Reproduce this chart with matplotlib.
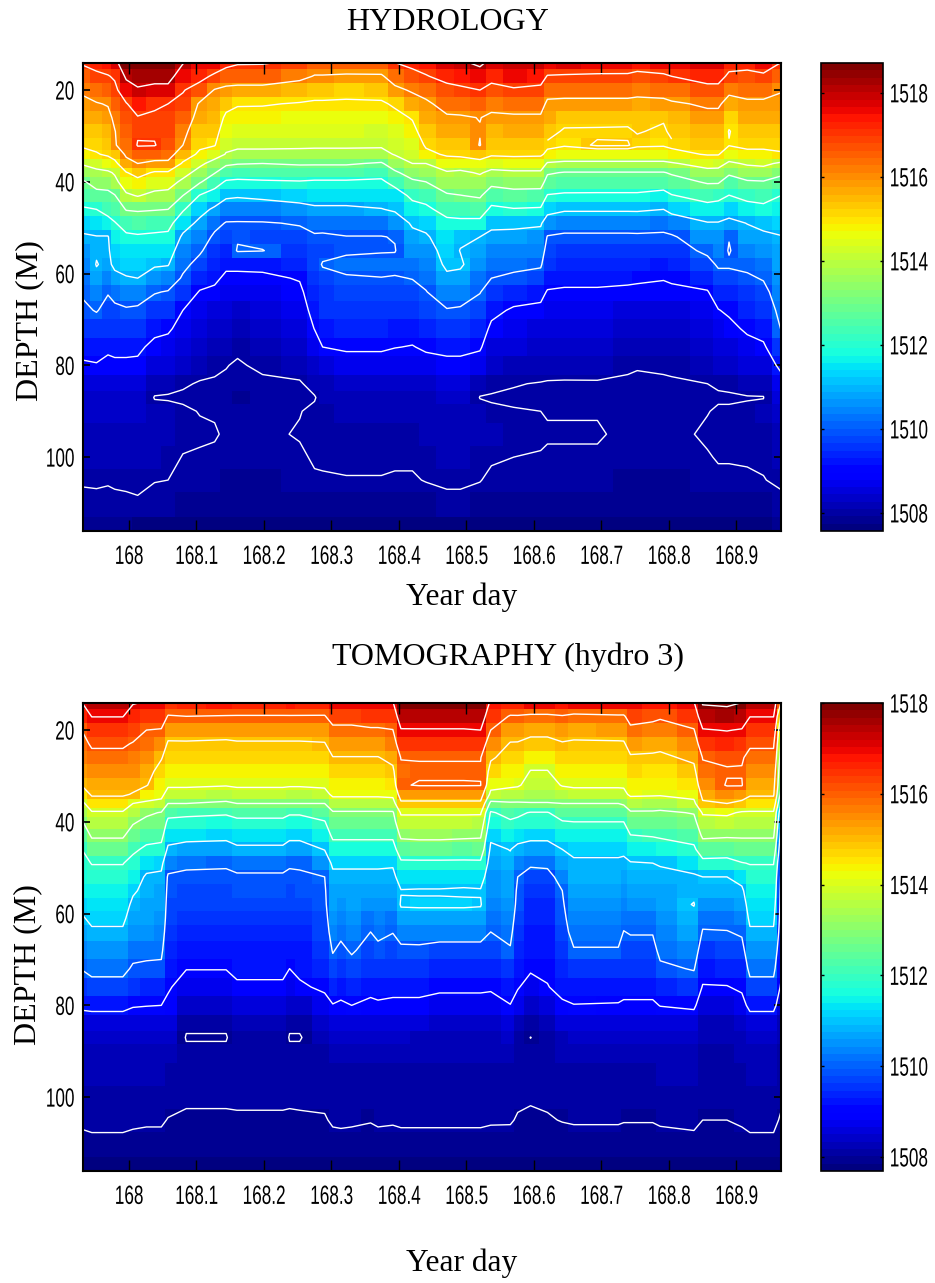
import matplotlib
matplotlib.use('Agg')
import matplotlib.pyplot as plt
from matplotlib.patheffects import AbstractPathEffect
from matplotlib.transforms import Affine2D
import numpy as np

# sound speed, in m/s above 1500
# every line is one time column, values go from the shallow row to the deep row
DEPTHS = [14, 17, 20, 23, 26, 29, 32, 34, 36, 38, 40, 43, 46, 49, 52, 55, 58, 61, 64, 68,
          72, 76, 80, 84, 87, 90, 95, 100, 105, 110, 116]
BASE = 1500

HYDRO_DAYS = [167.932, 167.952, 167.969, 167.979, 167.996, 168.013, 168.038, 168.058, 168.08, 168.105,
              168.127, 168.144, 168.161, 168.198, 168.253, 168.275, 168.287, 168.322, 168.374, 168.394,
              168.42, 168.44, 168.471, 168.491, 168.52, 168.537, 168.57, 168.61, 168.62, 168.645,
              168.694, 168.739, 168.753, 168.792, 168.804, 168.857, 168.873, 168.889, 168.916, 168.94, 168.966]
HYDRO_SPEED = [
    [17.1, 16.6, 16.1, 15.85, 15.6, 15.35, 15.1, 14.75, 14.1, 13.5, 12.9, 12.45, 11.9, 11.3, 10.9, 10.7, 10.5, 10.3, 10.1, 9.85, 9.55, 9.25, 8.9, 8.55, 8.4, 8.3, 8.2, 8.12, 8.03, 7.93, 7.78],
    [17.25, 16.85, 16.4, 15.95, 15.65, 15.4, 15.15, 14.95, 14.3, 13.8, 13.35, 12.7, 12, 11.4, 10.97, 10.93, 11.03, 10.85, 10.5, 10.05, 9.6, 9.3, 8.95, 8.55, 8.4, 8.3, 8.2, 8.12, 8.03, 7.95, 7.78],
    [17.45, 16.95, 16.5, 16.05, 15.8, 15.55, 15.3, 15.1, 14.6, 13.85, 13.4, 12.75, 12.3, 11.7, 10.95, 10.9, 10.85, 10.5, 10.05, 9.75, 9.5, 9.15, 8.8, 8.5, 8.4, 8.3, 8.2, 8.12, 8.02, 7.94, 7.78],
    [17.75, 17.1, 16.8, 16.5, 16.15, 15.97, 15.95, 15.4, 14.75, 14.1, 13.75, 12.95, 12.45, 11.95, 11.6, 11.35, 11.15, 10.8, 10.3, 9.8, 9.5, 9.2, 8.85, 8.55, 8.4, 8.3, 8.2, 8.12, 8.04, 7.94, 7.78],
    [18.65, 18.15, 17.55, 16.95, 16.75, 16.5, 16.3, 16.12, 15.75, 14.95, 14.55, 13.85, 13.05, 12.35, 11.85, 11.55, 11.25, 10.95, 10.5, 9.9, 9.55, 9.2, 8.85, 8.55, 8.4, 8.3, 8.2, 8.12, 8.05, 7.95, 7.75],
    [18.75, 18.35, 17.9, 17.4, 16.95, 16.9, 17.05, 16.6, 16, 15.3, 14.75, 14.05, 13.1, 12.45, 11.9, 11.55, 11.25, 11, 10.45, 9.85, 9.5, 9.15, 8.85, 8.55, 8.4, 8.3, 8.2, 8.14, 8.06, 7.97, 7.72],
    [18.8, 18.3, 17.75, 17.05, 16.95, 16.9, 17.04, 16.45, 15.8, 14.9, 14.5, 13.75, 13.05, 12.35, 11.85, 11.45, 11.1, 10.6, 10.05, 9.6, 9.2, 8.8, 8.55, 8.15, 7.98, 8.12, 8.12, 8.1, 8.01, 7.92, 7.72],
    [18.8, 18.3, 17.75, 17, 16.9, 16.8, 16.65, 16.4, 15.8, 14.9, 14.4, 13.7, 13, 12.3, 11.8, 11.4, 11.05, 10.5, 9.95, 9.55, 9.1, 8.75, 8.5, 8.1, 7.97, 8.1, 8.1, 8.07, 8, 7.92, 7.72],
    [18.05, 17.55, 17.05, 16.8, 16.5, 16.25, 16, 15.45, 14.9, 14.35, 13.8, 13, 12.1, 11.4, 10.85, 10.5, 10.2, 9.9, 9.5, 9, 8.75, 8.55, 8.4, 8.03, 7.96, 8.04, 8.06, 7.99, 7.95, 7.88, 7.7],
    [17.65, 17.25, 16.65, 15.9, 15.7, 15.4, 15.15, 14.85, 14.2, 13.65, 13.1, 11.95, 11.3, 10.8, 10.45, 10.1, 9.75, 9.35, 8.95, 8.75, 8.55, 8.4, 8.1, 7.98, 7.95, 7.99, 8.04, 7.97, 7.93, 7.86, 7.7],
    [17.55, 16.85, 15.95, 15.7, 15.5, 15.3, 15.05, 14.4, 13.65, 13.05, 12.4, 11.6, 10.85, 10.25, 9.85, 9.6, 9.4, 9.15, 8.85, 8.6, 8.4, 8.25, 8.05, 7.97, 7.95, 7.98, 8.02, 7.96, 7.92, 7.85, 7.7],
    [17.3, 16.5, 15.8, 15.25, 14.85, 14.55, 14.2, 13.95, 13.15, 12.5, 11.9, 11.15, 10.5, 9.95, 9.7, 9.45, 9.15, 8.85, 8.65, 8.45, 8.3, 8.15, 8.01, 7.96, 7.93, 7.95, 7.97, 7.95, 7.9, 7.85, 7.7],
    [17.1, 16.45, 15.75, 15.05, 14.8, 14.5, 14.15, 13.8, 13.05, 12.4, 11.85, 11.1, 10.4, 9.95, 9.93, 10.06, 9.15, 8.85, 8.65, 8.42, 8.25, 8.05, 7.97, 7.93, 7.9, 7.93, 7.95, 7.93, 7.9, 7.85, 7.7],
    [17.08, 16.45, 15.75, 15.05, 14.75, 14.45, 14.15, 13.8, 13, 12.45, 11.9, 11.2, 10.5, 9.95, 9.8, 10.02, 9.2, 8.85, 8.65, 8.5, 8.35, 8.2, 8.05, 7.95, 7.92, 7.93, 7.95, 7.93, 7.9, 7.85, 7.7],
    [16.85, 16.25, 15.45, 14.95, 14.7, 14.4, 14.12, 13.8, 13.1, 12.5, 11.95, 11.35, 10.7, 10.05, 9.8, 9.6, 9.35, 9.05, 8.85, 8.65, 8.45, 8.3, 8.12, 7.97, 7.95, 7.99, 8.02, 7.96, 7.92, 7.86, 7.7],
    [16.5, 15.95, 15.3, 14.9, 14.7, 14.4, 14.1, 13.8, 13.1, 12.45, 11.9, 11.4, 10.85, 10.3, 9.9, 9.8, 9.72, 9.6, 9.45, 9.25, 9.02, 8.65, 8.35, 8.1, 7.98, 8.05, 8.07, 8.03, 7.97, 7.88, 7.7],
    [16.5, 15.95, 15.3, 14.9, 14.7, 14.4, 14.1, 13.8, 13.1, 12.45, 11.9, 11.4, 10.85, 10.25, 9.9, 9.8, 10.05, 9.8, 9.65, 9.5, 9.3, 9, 8.6, 8.2, 8.1, 8.08, 8.06, 8.03, 7.98, 7.88, 7.7],
    [16.5, 15.9, 15.2, 14.9, 14.7, 14.4, 14.1, 13.8, 13.1, 12.45, 11.9, 11.4, 10.85, 10.3, 9.98, 9.9, 10.2, 9.93, 9.78, 9.6, 9.4, 9.1, 8.7, 8.3, 8.15, 8.1, 8.07, 8.04, 7.99, 7.88, 7.7],
    [16.6, 15.9, 15.3, 14.9, 14.65, 14.35, 14.1, 13.75, 12.9, 12.3, 11.85, 11.4, 10.97, 10.3, 9.98, 9.95, 10.25, 9.98, 9.8, 9.6, 9.4, 9.1, 8.7, 8.3, 8.15, 8.1, 8.07, 8.04, 7.99, 7.88, 7.7],
    [17, 16.4, 15.8, 15.1, 14.8, 14.5, 14.25, 14.05, 13.5, 12.85, 12.3, 11.55, 11.1, 10.55, 10.03, 9.97, 10.2, 9.95, 9.78, 9.55, 9.3, 9.02, 8.65, 8.3, 8.15, 8.1, 8.07, 8.03, 7.98, 7.88, 7.7],
    [17.25, 16.7, 16.1, 15.6, 15.05, 14.8, 14.45, 14.25, 14, 13.4, 12.85, 12.2, 11.65, 11.1, 10.8, 10.55, 10.3, 10.02, 9.8, 9.55, 9.25, 8.97, 8.65, 8.3, 8.15, 8.1, 8.07, 8.03, 7.98, 7.88, 7.7],
    [17.35, 16.95, 16.3, 15.85, 15.6, 15.35, 15.1, 14.8, 14, 13.5, 13, 12.35, 11.8, 11.25, 10.9, 10.65, 10.45, 10.2, 9.97, 9.7, 9.4, 9.1, 8.75, 8.4, 8.22, 8.15, 8.1, 8.06, 8.01, 7.9, 7.7],
    [17.75, 17.25, 16.75, 16.3, 15.9, 15.65, 15.3, 15.1, 14.6, 13.9, 13.5, 12.9, 12.35, 11.75, 11.45, 11.3, 11.15, 10.85, 10.45, 9.95, 9.6, 9.2, 8.8, 8.5, 8.35, 8.25, 8.18, 8.11, 8.04, 7.94, 7.72],
    [17.85, 17.35, 16.85, 16.35, 15.92, 15.65, 15.35, 15.15, 14.6, 13.8, 13.5, 12.98, 12.4, 11.8, 11.1, 10.98, 11.1, 10.8, 10.4, 9.9, 9.55, 9.2, 8.8, 8.5, 8.35, 8.25, 8.18, 8.11, 8.04, 7.94, 7.72],
    [18.2, 17.55, 17, 16.5, 16.02, 15.96, 16.04, 15.4, 14.7, 14.1, 13.6, 13.1, 12.5, 11.75, 11, 10.8, 10.55, 10.3, 10.03, 9.7, 9.4, 9.08, 8.7, 8.1, 7.99, 8.1, 8.1, 8.06, 8.01, 7.9, 7.72],
    [17.75, 17.25, 16.75, 16.25, 15.85, 15.55, 15.3, 15.1, 14.5, 13.75, 13.25, 12.5, 11.8, 11.2, 10.8, 10.5, 10.25, 10, 9.65, 9.2, 8.85, 8.6, 8.35, 8.08, 7.97, 8.05, 8.1, 8.03, 7.95, 7.88, 7.72],
    [17.95, 17.5, 16.9, 16.3, 15.9, 15.6, 15.3, 15.13, 14.6, 13.85, 13.4, 12.65, 11.95, 11.2, 10.75, 10.45, 10.2, 9.85, 9.4, 8.9, 8.65, 8.45, 8.25, 8.02, 7.95, 8.02, 8.06, 8, 7.93, 7.88, 7.72],
    [17.85, 17.35, 16.8, 16.3, 15.9, 15.6, 15.3, 15.1, 14.6, 13.85, 13.4, 12.6, 11.9, 11.1, 10.7, 10.4, 10.1, 9.7, 9.2, 8.85, 8.6, 8.4, 8.2, 7.98, 7.95, 8, 8.05, 7.98, 7.93, 7.87, 7.72],
    [17.6, 16.95, 16.3, 15.85, 15.6, 15.35, 15.12, 14.85, 13.9, 13.1, 12.65, 11.95, 11.3, 10.55, 9.95, 9.7, 9.5, 9.25, 8.95, 8.7, 8.5, 8.35, 8.15, 7.97, 7.95, 7.98, 8.03, 7.96, 7.92, 7.87, 7.72],
    [17.7, 16.9, 16.3, 15.8, 15.35, 15.15, 15.05, 14.65, 13.8, 12.95, 12.6, 11.85, 11.1, 10.4, 9.85, 9.65, 9.45, 9.2, 8.9, 8.65, 8.45, 8.3, 8.12, 7.97, 7.95, 7.98, 8.03, 7.96, 7.92, 7.87, 7.72],
    [17.65, 16.85, 16.3, 15.8, 15.35, 15.14, 15.24, 14.65, 13.8, 12.95, 12.55, 11.85, 11.1, 10.4, 9.85, 9.65, 9.45, 9.2, 8.9, 8.65, 8.45, 8.3, 8.13, 7.97, 7.95, 7.98, 8.03, 7.96, 7.92, 7.87, 7.72],
    [17.6, 16.85, 16.3, 15.8, 15.32, 15.14, 15.23, 14.65, 13.8, 12.95, 12.55, 11.85, 11.1, 10.4, 9.85, 9.6, 9.4, 9.15, 8.85, 8.6, 8.4, 8.25, 8.05, 7.95, 7.92, 7.92, 7.93, 7.93, 7.9, 7.85, 7.72],
    [17.45, 16.75, 16.25, 15.75, 15.4, 15.23, 15.08, 14.65, 13.8, 12.95, 12.55, 11.85, 11.1, 10.45, 9.85, 9.6, 9.4, 9.1, 8.85, 8.6, 8.4, 8.25, 8.02, 7.95, 7.92, 7.92, 7.93, 7.93, 7.9, 7.85, 7.72],
    [17.65, 16.85, 16.3, 15.8, 15.25, 15.13, 15.05, 14.65, 13.8, 12.95, 12.45, 11.7, 11, 10.3, 9.85, 9.55, 9.3, 9.03, 8.85, 8.6, 8.4, 8.25, 8.05, 7.95, 7.92, 7.92, 7.93, 7.93, 7.9, 7.85, 7.72],
    [17.5, 17, 16.4, 15.9, 15.55, 15.3, 15.12, 14.8, 13.9, 13.1, 12.65, 11.95, 11.25, 10.5, 9.9, 9.65, 9.4, 9.1, 8.85, 8.6, 8.4, 8.25, 8.08, 7.95, 7.92, 7.92, 7.93, 7.93, 7.9, 7.85, 7.72],
    [17.75, 17.3, 16.75, 16.1, 15.8, 15.55, 15.25, 15.05, 14.4, 13.65, 13.1, 12.35, 11.65, 10.95, 10.55, 10.15, 9.75, 9.35, 8.95, 8.7, 8.5, 8.35, 8.15, 8, 7.95, 7.99, 8.04, 7.98, 7.93, 7.87, 7.72],
    [17.8, 17.3, 16.75, 16.1, 15.8, 15.55, 15.25, 15.05, 14.35, 13.65, 13.1, 12.25, 11.6, 10.95, 10.65, 10.4, 10.1, 9.75, 9.4, 8.97, 8.7, 8.5, 8.3, 8.03, 7.97, 8.03, 8.08, 8.02, 7.95, 7.88, 7.72],
    [17.3, 16.85, 16.15, 15.75, 15.2, 14.97, 15.03, 14.55, 13.85, 13.15, 12.6, 11.98, 11.35, 10.8, 10.03, 9.95, 10.1, 9.75, 9.4, 9.12, 8.8, 8.55, 8.3, 8.05, 7.97, 8.03, 8.08, 8.02, 7.95, 7.88, 7.72],
    [17.3, 16.75, 16.3, 15.85, 15.6, 15.35, 15.12, 14.85, 14.1, 13.55, 12.9, 12.25, 11.65, 11.02, 10.75, 10.45, 10.15, 9.9, 9.65, 9.4, 9.12, 8.75, 8.45, 8.15, 7.98, 8.06, 8.09, 8.03, 7.96, 7.88, 7.72],
    [17.65, 16.8, 16.3, 15.85, 15.6, 15.35, 15.12, 14.85, 14.2, 13.55, 12.95, 12.35, 11.75, 11.2, 10.85, 10.6, 10.35, 10.05, 9.8, 9.55, 9.25, 8.9, 8.6, 8.12, 7.99, 8.1, 8.08, 8.04, 7.99, 7.9, 7.72],
    [17, 16.55, 16.05, 15.8, 15.6, 15.35, 15.12, 14.95, 13.85, 13.2, 12.65, 12, 11.6, 11.25, 10.97, 10.85, 10.75, 10.6, 10.4, 10.2, 10.02, 9.6, 9.15, 8.75, 8.55, 8.4, 8.25, 8.15, 8.05, 7.93, 7.75],
]

TOMO_DAYS = [167.932, 167.945, 167.991, 168.006, 168.026, 168.048, 168.058, 168.085, 168.144, 168.16,
             168.228, 168.238, 168.253, 168.29, 168.302, 168.314, 168.33, 168.358, 168.369, 168.391,
             168.403, 168.43, 168.46, 168.496, 168.521, 168.536, 168.565, 168.576, 168.595, 168.62,
             168.642, 168.659, 168.725, 168.733, 168.743, 168.776, 168.787, 168.837, 168.85, 168.886, 168.908,
             168.92, 168.955, 168.966]
TOMO_SPEED = [
    [17.05, 16.6, 16.05, 15.8, 15.6, 15.35, 15.1, 14.6, 13.85, 13.4, 13, 12.5, 12.03, 11.8, 11.6, 11.4, 11.2, 10.95, 10.7, 10.4, 10.05, 9.6, 9.15, 8.6, 8.4, 8.3, 8.2, 8.13, 8.05, 7.93, 7.75],
    [17.45, 17.02, 16.55, 16.1, 15.8, 15.5, 15.25, 15.1, 14.6, 13.9, 13.6, 13.1, 12.55, 12.03, 11.75, 11.55, 11.35, 11.15, 10.9, 10.55, 10.2, 9.75, 9.2, 8.6, 8.4, 8.3, 8.2, 8.13, 8.06, 7.95, 7.72],
    [17.45, 17.02, 16.55, 16.1, 15.8, 15.5, 15.25, 15.1, 14.6, 13.9, 13.6, 13.1, 12.55, 12.03, 11.75, 11.55, 11.35, 11.15, 10.9, 10.55, 10.2, 9.75, 9.2, 8.6, 8.4, 8.3, 8.2, 8.13, 8.06, 7.95, 7.72],
    [17.05, 16.7, 16.35, 15.95, 15.7, 15.45, 15.2, 14.95, 14, 13.55, 13.1, 12.6, 12.15, 11.75, 11.4, 11.1, 10.85, 10.65, 10.45, 10.25, 9.9, 9.5, 9.05, 8.6, 8.4, 8.3, 8.2, 8.13, 8.04, 7.94, 7.75],
    [16.95, 16.5, 16, 15.75, 15.5, 15.25, 15.05, 14.45, 13.85, 13.15, 12.8, 12.3, 11.85, 11.3, 10.9, 10.8, 10.7, 10.6, 10.45, 10.2, 9.85, 9.45, 9.02, 8.6, 8.4, 8.3, 8.2, 8.13, 8.03, 7.93, 7.75],
    [16.95, 16.45, 15.95, 15.5, 15.05, 14.75, 14.45, 14.2, 13.8, 12.95, 12.7, 12.25, 11.75, 11.2, 10.85, 10.75, 10.65, 10.55, 10.4, 10.15, 9.85, 9.45, 9, 8.6, 8.4, 8.3, 8.2, 8.13, 8.03, 7.93, 7.75],
    [16.55, 15.95, 15.35, 14.9, 14.7, 14.4, 14.1, 13.7, 13, 12.3, 11.8, 11.35, 10.85, 10.35, 9.9, 9.8, 9.72, 9.65, 9.55, 9.4, 9.25, 9.08, 8.85, 8.55, 8.35, 8.25, 8.15, 8.08, 7.99, 7.9, 7.75],
    [16.7, 16, 15.4, 14.9, 14.7, 14.4, 14.1, 13.7, 13, 12.2, 11.75, 11.25, 10.7, 10.15, 9.85, 9.75, 9.65, 9.55, 9.4, 9.25, 9.02, 8.7, 8.35, 8.05, 7.98, 8.05, 8.1, 8.04, 7.96, 7.88, 7.75],
    [16.85, 15.95, 15.35, 14.85, 14.65, 14.3, 14.05, 13.5, 12.85, 12.1, 11.7, 11.2, 10.65, 10.1, 9.85, 9.75, 9.65, 9.55, 9.4, 9.25, 9.02, 8.7, 8.35, 8.05, 7.98, 8.05, 8.1, 8.04, 7.96, 7.88, 7.75],
    [16.7, 15.95, 15.4, 14.9, 14.7, 14.4, 14.1, 13.7, 13, 12.3, 11.8, 11.35, 10.85, 10.25, 9.9, 9.8, 9.7, 9.6, 9.45, 9.3, 9.15, 8.9, 8.55, 8.25, 8.15, 8.1, 8.07, 8.04, 7.97, 7.88, 7.75],
    [16.7, 15.95, 15.4, 14.9, 14.7, 14.4, 14.1, 13.7, 13, 12.3, 11.8, 11.35, 10.85, 10.25, 9.9, 9.8, 9.7, 9.6, 9.45, 9.3, 9.15, 8.9, 8.55, 8.25, 8.15, 8.1, 8.07, 8.04, 7.97, 7.88, 7.75],
    [16.75, 15.95, 15.4, 14.9, 14.7, 14.35, 14.08, 13.6, 13, 12.1, 11.7, 11.2, 10.65, 10.1, 9.85, 9.75, 9.65, 9.55, 9.4, 9.25, 9, 8.7, 8.35, 8.05, 7.98, 8.05, 8.1, 8.04, 7.96, 7.88, 7.75],
    [16.7, 15.95, 15.4, 14.9, 14.7, 14.35, 14.08, 13.6, 13, 12.1, 11.7, 11.2, 10.65, 10.1, 9.9, 9.8, 9.7, 9.6, 9.45, 9.3, 9.15, 8.9, 8.4, 8.05, 7.98, 8.05, 8.07, 8.04, 7.97, 7.88, 7.75],
    [16.6, 15.95, 15.4, 14.95, 14.7, 14.4, 14.12, 13.75, 13, 12.45, 11.95, 11.5, 11.03, 10.5, 10, 9.9, 9.85, 9.75, 9.65, 9.5, 9.35, 9.12, 8.75, 8.35, 8.2, 8.13, 8.08, 8.05, 7.98, 7.88, 7.75],
    [16.9, 16.35, 15.8, 15.4, 14.97, 14.7, 14.4, 14.15, 13.6, 12.9, 12.65, 12.15, 11.65, 11.15, 10.8, 10.7, 10.6, 10.45, 10.3, 10.05, 9.75, 9.35, 8.97, 8.55, 8.35, 8.25, 8.16, 8.1, 8.03, 7.93, 7.75],
    [16.9, 16.35, 15.8, 15.4, 14.97, 14.7, 14.4, 14.15, 13.6, 12.9, 12.65, 12.15, 11.65, 11.15, 10.8, 10.7, 10.55, 10.35, 10.15, 9.85, 9.55, 9.25, 8.9, 8.55, 8.35, 8.25, 8.16, 8.1, 8.04, 7.93, 7.75],
    [16.9, 16.35, 15.8, 15.4, 14.97, 14.7, 14.4, 14.15, 13.6, 12.9, 12.65, 12.15, 11.65, 11.15, 10.8, 10.7, 10.6, 10.5, 10.35, 10.08, 9.75, 9.4, 9, 8.6, 8.4, 8.27, 8.17, 8.1, 8.03, 7.93, 7.75],
    [16.95, 16.45, 15.9, 15.4, 14.97, 14.7, 14.4, 14.15, 13.6, 12.9, 12.65, 12.15, 11.65, 11.15, 10.8, 10.65, 10.5, 10.25, 10, 9.75, 9.5, 9.2, 8.85, 8.55, 8.35, 8.25, 8.15, 8.1, 8.01, 7.93, 7.75],
    [16.95, 16.45, 15.9, 15.4, 14.97, 14.7, 14.4, 14.15, 13.6, 12.9, 12.65, 12.15, 11.65, 11.15, 10.8, 10.65, 10.5, 10.35, 10.15, 9.85, 9.55, 9.25, 8.9, 8.55, 8.35, 8.25, 8.16, 8.1, 8.03, 7.93, 7.75],
    [16.95, 16.5, 15.98, 15.6, 15.2, 14.85, 14.5, 14.2, 13.65, 12.9, 12.65, 12.15, 11.65, 11.1, 10.8, 10.65, 10.45, 10.25, 10.02, 9.75, 9.5, 9.2, 8.85, 8.55, 8.35, 8.25, 8.16, 8.1, 8.02, 7.93, 7.75],
    [17.95, 17.45, 16.95, 16.5, 16.03, 15.85, 15.95, 15.4, 14.85, 14.1, 13.7, 13.15, 12.5, 11.85, 11.35, 10.97, 11.06, 10.75, 10.3, 9.85, 9.5, 9.2, 8.85, 8.55, 8.35, 8.25, 8.16, 8.1, 8.03, 7.94, 7.72],
    [18, 17.5, 16.95, 16.5, 16.03, 15.92, 16.04, 15.4, 14.85, 14.1, 13.7, 13.2, 12.55, 11.85, 11.35, 10.95, 11.08, 10.75, 10.35, 9.85, 9.5, 9.2, 8.85, 8.5, 8.33, 8.25, 8.16, 8.1, 8.03, 7.94, 7.72],
    [18, 17.5, 16.95, 16.5, 16.03, 15.92, 16.04, 15.4, 14.85, 14.1, 13.7, 13.2, 12.55, 11.85, 11.35, 10.95, 11.08, 10.75, 10.3, 9.75, 9.45, 9.12, 8.75, 8.45, 8.3, 8.22, 8.15, 8.1, 8.03, 7.94, 7.72],
    [18, 17.5, 16.95, 16.5, 16.03, 15.92, 16.04, 15.4, 14.85, 14.1, 13.7, 13.15, 12.5, 11.85, 11.25, 10.93, 11.08, 10.75, 10.3, 9.75, 9.45, 9.12, 8.75, 8.45, 8.3, 8.22, 8.15, 8.1, 8.03, 7.94, 7.72],
    [18, 17.5, 17, 16.5, 16.03, 15.92, 16.03, 15.4, 14.85, 14.1, 13.65, 13.1, 12.55, 11.85, 11.3, 10.95, 11.05, 10.75, 10.3, 9.75, 9.45, 9.12, 8.75, 8.45, 8.3, 8.22, 8.15, 8.1, 8.03, 7.94, 7.72],
    [16.85, 16.4, 16, 15.5, 15.1, 14.7, 14.25, 13.8, 12.75, 11.9, 11.6, 11.15, 10.85, 10.65, 10.55, 10.45, 10.35, 10.2, 10, 9.7, 9.4, 9.1, 8.7, 8.45, 8.3, 8.22, 8.15, 8.1, 8.02, 7.93, 7.72],
    [16.6, 15.95, 15.35, 14.95, 14.7, 14.4, 14.15, 13.6, 12.9, 12.3, 11.9, 11.45, 11.02, 10.85, 10.7, 10.6, 10.45, 10.3, 10.15, 9.95, 9.6, 9.3, 8.98, 8.55, 8.35, 8.25, 8.16, 8.1, 8.02, 7.92, 7.72],
    [16.7, 15.95, 15.3, 14.95, 14.7, 14.4, 14.1, 13.55, 12.9, 12.15, 11.85, 11.3, 10.8, 10.35, 10, 9.85, 9.8, 9.7, 9.6, 9.45, 9.3, 9.05, 8.7, 8.3, 8.15, 8.1, 8.07, 8.04, 7.98, 7.9, 7.72],
    [16.9, 15.85, 15.2, 14.8, 14.35, 13.97, 13.7, 13.4, 12.95, 11.95, 11.75, 11.15, 10.75, 10.15, 9.65, 9.5, 9.42, 9.35, 9.28, 9.18, 9.08, 8.75, 8.4, 8.15, 7.995, 8.08, 8.05, 8.03, 7.95, 7.88, 7.72],
    [16.9, 15.85, 15.2, 14.8, 14.35, 13.97, 13.7, 13.4, 12.95, 11.95, 11.75, 11.15, 10.75, 10.2, 9.7, 9.55, 9.45, 9.38, 9.3, 9.22, 9.12, 8.97, 8.55, 8.25, 8.15, 8.1, 8.07, 8.04, 7.98, 7.88, 7.72],
    [16.85, 15.95, 15.3, 14.95, 14.7, 14.4, 14.05, 13.6, 13, 12.4, 11.95, 11.5, 11, 10.65, 10.35, 10, 9.9, 9.8, 9.7, 9.55, 9.4, 9.2, 8.9, 8.5, 8.3, 8.2, 8.12, 8.07, 8.01, 7.9, 7.72],
    [17, 15.8, 15.25, 14.9, 14.7, 14.4, 14.1, 13.75, 13, 12.5, 12, 11.55, 11.15, 10.9, 10.8, 10.7, 10.55, 10.4, 10.25, 9.95, 9.6, 9.3, 8.98, 8.55, 8.35, 8.25, 8.16, 8.1, 8.02, 7.92, 7.72],
    [16.95, 15.9, 15.35, 14.9, 14.7, 14.4, 14.1, 13.75, 13, 12.5, 12, 11.55, 11.15, 10.9, 10.8, 10.7, 10.55, 10.4, 10.25, 9.95, 9.6, 9.3, 8.95, 8.55, 8.35, 8.25, 8.16, 8.1, 8.02, 7.92, 7.72],
    [16.9, 15.9, 15.4, 14.9, 14.7, 14.4, 14.1, 13.8, 13.1, 12.5, 12, 11.55, 11.15, 10.85, 10.65, 10.5, 10.35, 10.2, 9.98, 9.75, 9.5, 9.22, 8.9, 8.55, 8.35, 8.25, 8.15, 8.08, 8.01, 7.92, 7.72],
    [16.9, 16.35, 15.8, 15.35, 14.9, 14.65, 14.35, 14.15, 13.5, 12.9, 12.55, 11.97, 11.45, 10.95, 10.8, 10.65, 10.45, 10.25, 10.05, 9.75, 9.5, 9.22, 8.9, 8.55, 8.35, 8.25, 8.15, 8.08, 8.01, 7.92, 7.72],
    [16.8, 16.2, 15.7, 15.25, 14.88, 14.6, 14.32, 14.12, 13.45, 12.9, 12.6, 12.05, 11.5, 11, 10.82, 10.65, 10.45, 10.25, 10.05, 9.75, 9.5, 9.22, 8.9, 8.55, 8.35, 8.25, 8.15, 8.08, 8.01, 7.92, 7.72],
    [16.75, 16.1, 15.65, 15.2, 14.85, 14.6, 14.3, 14.1, 13.45, 12.85, 12.6, 12.1, 11.6, 11.05, 10.85, 10.75, 10.65, 10.55, 10.4, 10.2, 9.85, 9.45, 9.02, 8.6, 8.38, 8.28, 8.18, 8.11, 8.03, 7.92, 7.72],
    [16.95, 16.5, 15.95, 15.55, 15.15, 14.8, 14.5, 14.25, 13.8, 13.05, 12.75, 12.3, 11.85, 11.35, 10.9, 10.85, 11.03, 10.8, 10.65, 10.4, 10.05, 9.6, 9.12, 8.6, 8.4, 8.3, 8.2, 8.13, 8.05, 7.94, 7.72],
    [18.1, 17.5, 16.95, 16.5, 16.03, 15.85, 15.5, 15.2, 14.9, 14.1, 13.65, 13.15, 12.5, 11.75, 11, 10.8, 10.5, 10.2, 9.95, 9.6, 9.3, 8.95, 8.6, 8.3, 8.2, 8.13, 8.08, 8.05, 8, 7.9, 7.72],
    [18.15, 17.65, 17.03, 16.6, 16.1, 15.95, 16.05, 15.5, 15, 14.15, 13.7, 13.1, 12.4, 11.75, 11, 10.8, 10.5, 10.25, 9.97, 9.65, 9.35, 8.97, 8.62, 8.32, 8.2, 8.13, 8.08, 8.05, 8, 7.9, 7.72],
    [18, 17.5, 16.95, 16.5, 16.07, 15.95, 16.05, 15.4, 14.8, 13.9, 13.6, 13.1, 12.55, 11.97, 11.3, 10.85, 10.6, 10.4, 10.1, 9.75, 9.45, 9.12, 8.75, 8.45, 8.3, 8.22, 8.15, 8.1, 8.03, 7.93, 7.72],
    [17.45, 17.02, 16.55, 16.1, 15.8, 15.5, 15.25, 15.1, 14.6, 13.9, 13.6, 13.1, 12.55, 12.03, 11.75, 11.55, 11.35, 11.15, 10.9, 10.55, 10.2, 9.75, 9.2, 8.6, 8.4, 8.3, 8.2, 8.13, 8.06, 7.95, 7.72],
    [17.45, 17.02, 16.55, 16.1, 15.8, 15.5, 15.25, 15.1, 14.6, 13.9, 13.6, 13.1, 12.55, 12.03, 11.75, 11.55, 11.35, 11.15, 10.9, 10.55, 10.2, 9.75, 9.2, 8.6, 8.4, 8.3, 8.2, 8.13, 8.06, 7.95, 7.72],
    [16, 14.9, 14.3, 13.9, 13.65, 13.35, 13.1, 12.7, 12, 11.35, 10.95, 10.7, 10.4, 10.1, 9.9, 9.8, 9.75, 9.7, 9.6, 9.4, 9.2, 8.9, 8.6, 8.3, 8.2, 8.13, 8.08, 8.05, 7.97, 7.88, 7.72],
]

LEVELS = [1508, 1509, 1510, 1511, 1512, 1513, 1514, 1515, 1516, 1517, 1518]
# the closed yellow patch of the upper panel sits between 168.62 and 168.80
HYDRO_PATCH_LEVEL = [1515.2]
DAY_TICKS = [168, 168.1, 168.2, 168.3, 168.4, 168.5, 168.6, 168.7, 168.8, 168.9]
DAY_LABELS = ['168', '168.1', '168.2', '168.3', '168.4', '168.5', '168.6', '168.7', '168.8', '168.9']
DEPTH_TICKS = [20, 40, 60, 80, 100]
BAR_TICKS = [1508, 1510, 1512, 1514, 1516, 1518]

W, H = 935, 1283
SANS = 'Liberation Sans'
SERIF = 'Liberation Serif'


class Squeeze(AbstractPathEffect):
    # the tick labels of the original are a tall condensed sans
    def __init__(self, sx, anchor):
        super().__init__()
        self.sx = sx
        self.anchor = anchor

    def draw_path(self, renderer, gc, tpath, affine, rgbFace=None):
        box = tpath.get_extents()
        x0 = {'center': (box.x0 + box.x1) / 2, 'right': box.x1}[self.anchor]
        squeeze = Affine2D().translate(-x0, 0).scale(self.sx, 1).translate(x0, 0)
        renderer.draw_path(gc, tpath, squeeze + affine, rgbFace)


def px_axes(fig, left, top, right, bottom):
    return fig.add_axes([left / W, 1 - bottom / H, (right - left) / W, (bottom - top) / H])


def draw_panel(fig, top, bottom, days, speed, vmin, vmax):
    days = np.array(days)
    depth = np.array(DEPTHS)
    field = np.array(speed).T + BASE
    jet = plt.get_cmap('jet', 64)

    ax = px_axes(fig, 83, top, 781, bottom)
    mesh = ax.pcolormesh(days, depth, field, cmap=jet, vmin=vmin, vmax=vmax, shading='nearest')
    ax.contour(days, depth, field, levels=LEVELS, colors='white', linewidths=1.0)
    ax.set_xlim(167.932, 168.966)
    ax.set_ylim(116.1, 14.1)
    ax.set_xticks(DAY_TICKS)
    ax.set_xticklabels(DAY_LABELS)
    ax.set_yticks(DEPTH_TICKS)
    ax.tick_params(axis='x', direction='in', length=8, width=1, top=True, pad=10, labelsize=19)
    ax.tick_params(axis='y', direction='in', length=5, width=1.2, right=True, pad=6, labelsize=19)
    for label in ax.get_xticklabels():
        label.set_family(SANS)
        label.set_path_effects([Squeeze(0.65, 'center')])
    for label in ax.get_yticklabels():
        label.set_family(SANS)
        label.set_path_effects([Squeeze(0.65, 'right')])
    for spine in ax.spines.values():
        spine.set_linewidth(1.5)

    cax = px_axes(fig, 821, top, 883, bottom)
    bar = fig.colorbar(mesh, cax=cax, ticks=BAR_TICKS)
    bar.ax.yaxis.set_major_formatter(plt.FormatStrFormatter('%d'))
    bar.ax.tick_params(direction='in', length=2.5, width=1, left=True, right=True, pad=32.5, labelsize=19)
    bar.ax.tick_params(which='minor', length=0)
    bar.outline.set_linewidth(1.2)
    fig.canvas.draw()
    for label in bar.ax.get_yticklabels():
        label.set_family(SANS)
        label.set_ha('right')
        label.set_path_effects([Squeeze(0.65, 'right')])
    return ax


fig = plt.figure(figsize=(W / 100, H / 100), dpi=100)

ax1 = draw_panel(fig, 63, 531, HYDRO_DAYS, HYDRO_SPEED, 1507.57, 1518.71)
# closing line of the yellow patch, only over those columns
patch = np.ma.masked_where(
    np.tile((np.array(HYDRO_DAYS) < 168.62) | (np.array(HYDRO_DAYS) > 168.804), (len(DEPTHS), 1)),
    np.array(HYDRO_SPEED).T + BASE)
ax1.contour(HYDRO_DAYS, DEPTHS, patch, levels=HYDRO_PATCH_LEVEL, colors='white', linewidths=1.0)

draw_panel(fig, 703, 1171, TOMO_DAYS, TOMO_SPEED, 1507.69, 1518.0)

fig.text(448 / W, 1 - 22 / H, 'HYDROLOGY', family=SERIF, fontsize=23, ha='center', va='center')
fig.text(508 / W, 1 - 657 / H, 'TOMOGRAPHY (hydro 3)', family=SERIF, fontsize=23, ha='center', va='center')
fig.text(462 / W, 1 - 597 / H, 'Year day', family=SERIF, fontsize=22.6, ha='center', va='center')
fig.text(462 / W, 1 - 1263 / H, 'Year day', family=SERIF, fontsize=22.6, ha='center', va='center')
fig.text(30 / W, 1 - 321 / H, 'DEPTH (M)', family=SERIF, fontsize=23, rotation=90, ha='center', va='center')
fig.text(28 / W, 1 - 965 / H, 'DEPTH (M)', family=SERIF, fontsize=23, rotation=90, ha='center', va='center')

fig.savefig('out.png', dpi=100)
